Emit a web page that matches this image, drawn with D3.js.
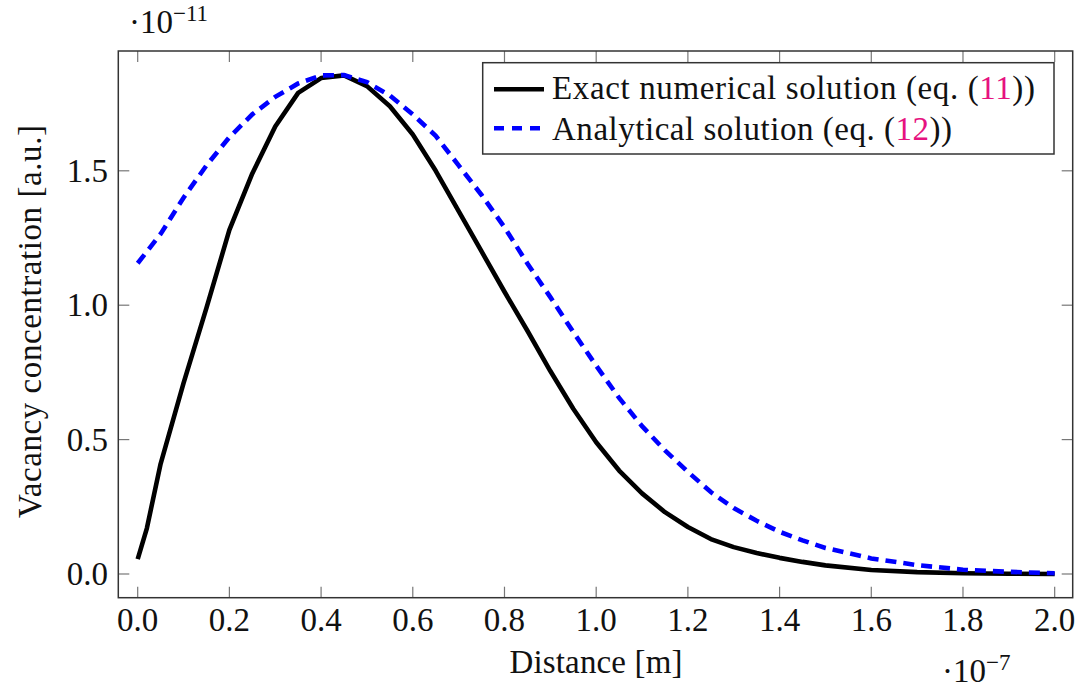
<!DOCTYPE html>
<html>
<head>
<meta charset="utf-8">
<script src="https://cdn.jsdelivr.net/npm/d3@7/dist/d3.min.js"></script>
<style>
  html, body { margin: 0; padding: 0; background: #fff; }
  svg { display: block; }
  text { font-family: "Liberation Serif", "DejaVu Serif", serif; fill: #111; }
</style>
</head>
<body>
<svg id="chart" width="1083" height="693"></svg>
<script>
// ---- data (x in units of 1e-7 m, y in units of 1e-11 a.u.) ----
const exactX = [0.00, 0.02, 0.05, 0.10, 0.15, 0.20, 0.25, 0.30, 0.35, 0.40, 0.45, 0.50, 0.55, 0.60, 0.65, 0.70, 0.75, 0.80, 0.85, 0.90, 0.95, 1.00, 1.05, 1.10, 1.15, 1.20, 1.25, 1.30, 1.35, 1.40, 1.45, 1.50, 1.60, 1.70, 1.80, 1.90, 2.00];
const exactY = [0.055, 0.17, 0.41, 0.71, 0.99, 1.28, 1.49, 1.665, 1.79, 1.845, 1.855, 1.815, 1.74, 1.635, 1.50, 1.35, 1.20, 1.05, 0.905, 0.755, 0.615, 0.49, 0.385, 0.30, 0.23, 0.175, 0.13, 0.10, 0.078, 0.06, 0.045, 0.032, 0.015, 0.007, 0.003, 0.001, 0.0];
const analyticX = [0.00, 0.05, 0.10, 0.15, 0.20, 0.25, 0.30, 0.35, 0.40, 0.45, 0.50, 0.55, 0.60, 0.65, 0.70, 0.75, 0.80, 0.85, 0.90, 0.95, 1.00, 1.05, 1.10, 1.15, 1.20, 1.25, 1.30, 1.35, 1.40, 1.45, 1.50, 1.60, 1.70, 1.80, 1.90, 2.00];
const analyticY = [1.156, 1.265, 1.40, 1.52, 1.625, 1.71, 1.775, 1.825, 1.855, 1.856, 1.83, 1.78, 1.71, 1.63, 1.52, 1.41, 1.29, 1.155, 1.03, 0.90, 0.775, 0.655, 0.55, 0.46, 0.38, 0.305, 0.245, 0.198, 0.157, 0.125, 0.097, 0.058, 0.033, 0.016, 0.008, 0.003];
const xTicks = [0.0, 0.2, 0.4, 0.6, 0.8, 1.0, 1.2, 1.4, 1.6, 1.8, 2.0];
const yTicks = [0.0, 0.5, 1.0, 1.5];
const seriesNames = ["Exact numerical solution (eq. (", "Analytical solution (eq. ("];
const seriesRefs = ["11", "12"];

const svg = d3.select("#chart");
const L = 118.3, R = 1072.7, T = 51, B = 597.7;
const x = d3.scaleLinear().domain([-0.0423, 2.0393]).range([L, R]);
const y = d3.scaleLinear().domain([-0.0882, 1.9457]).range([B, T]);

const tickLen = 11;
const tickColor = "#777";
const fs = 33;

// ticks (inward, on all four sides)
const g = svg.append("g");
xTicks.forEach(v => {
  g.append("line").attr("x1", x(v)).attr("x2", x(v)).attr("y1", B).attr("y2", B - tickLen)
    .attr("stroke", tickColor).attr("stroke-width", 1.2);
  g.append("line").attr("x1", x(v)).attr("x2", x(v)).attr("y1", T).attr("y2", T + tickLen)
    .attr("stroke", tickColor).attr("stroke-width", 1.2);
  g.append("text").attr("x", x(v)).attr("y", 631).attr("text-anchor", "middle")
    .attr("font-size", fs).text(v.toFixed(1));
});
yTicks.forEach(v => {
  g.append("line").attr("x1", L).attr("x2", L + tickLen).attr("y1", y(v)).attr("y2", y(v))
    .attr("stroke", tickColor).attr("stroke-width", 1.2);
  g.append("line").attr("x1", R).attr("x2", R - tickLen).attr("y1", y(v)).attr("y2", y(v))
    .attr("stroke", tickColor).attr("stroke-width", 1.2);
  g.append("text").attr("x", 108).attr("y", y(v) + 11).attr("text-anchor", "end")
    .attr("font-size", fs).text(v.toFixed(1));
});

// clip
svg.append("clipPath").attr("id", "clip").append("rect")
  .attr("x", L).attr("y", T).attr("width", R - L).attr("height", B - T);

const line = d3.line().x(d => x(d[0])).y(d => y(d[1]));
const exactData = exactX.map((v, i) => [v, exactY[i]]);
const analyticData = analyticX.map((v, i) => [v, analyticY[i]]);

const plot = svg.append("g").attr("clip-path", "url(#clip)");
plot.append("path").datum(exactData).attr("d", line)
  .attr("fill", "none").attr("stroke", "#000").attr("stroke-width", 4.6)
  .attr("stroke-linejoin", "round");
plot.append("path").datum(analyticData).attr("d", line)
  .attr("fill", "none").attr("stroke", "#0000ff").attr("stroke-width", 4.6)
  .attr("stroke-dasharray", "11,7");

// frame
svg.append("rect").attr("x", L).attr("y", T).attr("width", R - L).attr("height", B - T)
  .attr("fill", "none").attr("stroke", "#333").attr("stroke-width", 1.5);

// legend
const lg = svg.append("g");
lg.append("rect").attr("x", 482.7).attr("y", 62.7).attr("width", 1054 - 482.7).attr("height", 154 - 62.7)
  .attr("fill", "#fff").attr("stroke", "#333").attr("stroke-width", 1.5);
const rows = [
  { y: 89.3, tb: 98.5, color: "#000", dash: null, w: 483 },
  { y: 128.3, tb: 139.5, color: "#0000ff", dash: "10,8", w: 400 }
];
rows.forEach((r, i) => {
  const l = lg.append("line").attr("x1", 494).attr("x2", 544).attr("y1", r.y).attr("y2", r.y)
    .attr("stroke", r.color).attr("stroke-width", 4.6);
  if (r.dash) l.attr("stroke-dasharray", r.dash);
  const t = lg.append("text").attr("x", 552).attr("y", r.tb).attr("font-size", fs)
    .attr("textLength", r.w).attr("lengthAdjust", "spacing");
  t.append("tspan").text(seriesNames[i]);
  t.append("tspan").attr("fill", "#e6127f").style("fill", "#e6127f").text(seriesRefs[i]);
  t.append("tspan").text("))");
});

// axis labels
svg.append("text").attr("x", 596).attr("y", 673).attr("text-anchor", "middle")
  .attr("font-size", fs).attr("textLength", 173).attr("lengthAdjust", "spacing").text("Distance [m]");
svg.append("text").attr("transform", "translate(41,321.5) rotate(-90)").attr("text-anchor", "middle")
  .attr("font-size", fs).attr("textLength", 393).attr("lengthAdjust", "spacing")
  .text("Vacancy concentration [a.u.]");

// exponent labels
const e1 = svg.append("text").attr("x", 129).attr("y", 33).attr("font-size", fs);
e1.append("tspan").text("·10");
e1.append("tspan").attr("font-size", 23).attr("dy", -12).text("−11");
const e2 = svg.append("text").attr("x", 942).attr("y", 682).attr("font-size", fs);
e2.append("tspan").text("·10");
e2.append("tspan").attr("font-size", 23).attr("dy", -12).text("−7");
</script>
</body>
</html>
